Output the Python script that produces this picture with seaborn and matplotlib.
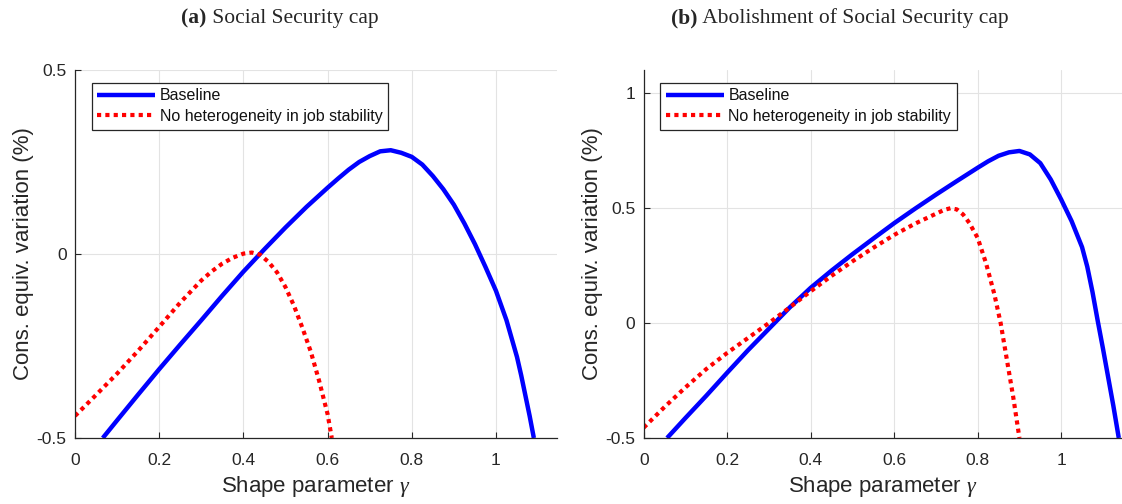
import matplotlib
matplotlib.use("Agg")
import matplotlib.pyplot as plt
import seaborn as sns
import pandas as pd
from matplotlib.ticker import FixedLocator, FixedFormatter

# ---------------- data ----------------
# Panel (a): Social Security cap
a_base_x = [0.066, 0.1, 0.15, 0.2, 0.25, 0.3, 0.35, 0.4, 0.45, 0.5, 0.55, 0.6, 0.625, 0.65, 0.675, 0.7,
            0.725, 0.75, 0.775, 0.8, 0.825, 0.85, 0.875, 0.9, 0.925, 0.95, 0.975, 1.0, 1.025, 1.05, 1.06,
            1.07, 1.08, 1.09]
a_base_y = [-0.5, -0.452, -0.382, -0.313, -0.246, -0.18, -0.113, -0.048, 0.013, 0.072, 0.128, 0.18, 0.205,
            0.229, 0.25, 0.266, 0.279, 0.282, 0.275, 0.264, 0.243, 0.212, 0.176, 0.134, 0.083, 0.027, -0.035,
            -0.1, -0.18, -0.28, -0.33, -0.385, -0.44, -0.5]
a_nohet_x = [0.0, 0.05, 0.1, 0.15, 0.2, 0.25, 0.3, 0.325, 0.35, 0.375, 0.4, 0.42, 0.44, 0.46, 0.48, 0.5,
             0.52, 0.54, 0.56, 0.58, 0.6, 0.61]
a_nohet_y = [-0.44, -0.383, -0.325, -0.263, -0.198, -0.132, -0.072, -0.047, -0.026, -0.01, 0.001, 0.004,
             -0.002, -0.022, -0.05, -0.09, -0.14, -0.2, -0.265, -0.345, -0.435, -0.5]

# Panel (b): Abolishment of Social Security cap
b_base_x = [0.056, 0.1, 0.15, 0.2, 0.25, 0.3, 0.35, 0.4, 0.45, 0.5, 0.55, 0.6, 0.65, 0.7, 0.75, 0.8, 0.825,
            0.85, 0.875, 0.9, 0.925, 0.95, 0.975, 1.0, 1.025, 1.05, 1.0625, 1.075, 1.0875, 1.1, 1.125, 1.138]
b_base_y = [-0.5, -0.413, -0.316, -0.216, -0.118, -0.025, 0.068, 0.153, 0.228, 0.299, 0.367, 0.434, 0.497,
            0.558, 0.617, 0.675, 0.703, 0.727, 0.742, 0.748, 0.733, 0.695, 0.624, 0.537, 0.443, 0.33, 0.245,
            0.135, 0.01, -0.11, -0.36, -0.5]
b_nohet_x = [0.0, 0.05, 0.1, 0.15, 0.2, 0.25, 0.3, 0.35, 0.4, 0.45, 0.5, 0.55, 0.6, 0.65, 0.7, 0.72,
             0.735, 0.75, 0.765, 0.78, 0.8, 0.82, 0.84, 0.855, 0.87, 0.885, 0.9]
b_nohet_y = [-0.455, -0.365, -0.28, -0.2, -0.13, -0.065, 0.0, 0.068, 0.138, 0.205, 0.268, 0.327, 0.383,
             0.432, 0.475, 0.492, 0.499, 0.494, 0.472, 0.435, 0.37, 0.26, 0.125, 0.0, -0.16, -0.32, -0.5]

series_labels = ["Baseline", "No heterogeneity in job stability"]
titles = [("(a)", "Social Security cap"), ("(b)", "Abolishment of Social Security cap")]
x_ticks = [0, 0.2, 0.4, 0.6, 0.8, 1]
x_ticklabels = ["0", "0.2", "0.4", "0.6", "0.8", "1"]
a_yticks = [-0.5, 0, 0.5]
a_yticklabels = ["-0.5", "0", "0.5"]
b_yticks = [-0.5, 0, 0.5, 1]
b_yticklabels = ["-0.5", "0", "0.5", "1"]
xlabel = r"Shape parameter $\gamma$"
ylabel = "Cons. equiv. variation (%)"

# ---------------- style ----------------
sns.set_theme(style="whitegrid")
plt.rcParams["font.family"] = ["Liberation Sans", "DejaVu Sans"]
plt.rcParams["mathtext.fontset"] = "custom"
plt.rcParams["mathtext.it"] = "Liberation Serif:italic"
plt.rcParams["mathtext.rm"] = "Liberation Sans"
plt.rcParams["axes.unicode_minus"] = False

fig = plt.figure(figsize=(11.22, 5.04), dpi=100)
W, H = 1122, 504
ax_a = fig.add_axes([75 / W, 1 - 438 / H, 482 / W, 368 / H])
ax_b = fig.add_axes([643.7 / W, 1 - 438 / H, 478 / W, 368 / H])

panels = [
    (ax_a, a_base_x, a_base_y, a_nohet_x, a_nohet_y, (-0.5, 0.5), a_yticks, a_yticklabels),
    (ax_b, b_base_x, b_base_y, b_nohet_x, b_nohet_y, (-0.5, 1.1), b_yticks, b_yticklabels),
]

for ax, bx, by, nx, ny, ylim, yt, ytl in panels:
    df_b = pd.DataFrame({"x": bx, "y": by})
    df_n = pd.DataFrame({"x": nx, "y": ny})
    sns.lineplot(data=df_b, x="x", y="y", ax=ax, color="#0000ff", linewidth=3.2,
                 label=series_labels[0], solid_capstyle="butt", solid_joinstyle="round")
    sns.lineplot(data=df_n, x="x", y="y", ax=ax, color="#ff0000", linewidth=3.0,
                 label=series_labels[1], dashes=False)
    ax.lines[-1].set_dashes((1, 1))
    ax.lines[-1].set_dash_capstyle("butt")
    ax.set_xlim(0, 1.145)
    ax.set_ylim(*ylim)
    ax.xaxis.set_major_locator(FixedLocator(x_ticks))
    ax.xaxis.set_major_formatter(FixedFormatter(x_ticklabels))
    ax.yaxis.set_major_locator(FixedLocator(yt))
    ax.yaxis.set_major_formatter(FixedFormatter(ytl))
    ax.set_facecolor("white")
    ax.grid(True, color="#e3e3e3", linewidth=0.8)
    for s in ["top", "right"]:
        ax.spines[s].set_visible(False)
    for s in ["left", "bottom"]:
        ax.spines[s].set_visible(True)
        ax.spines[s].set_color("#262626")
        ax.spines[s].set_linewidth(0.9)
    ax.tick_params(axis="both", which="major", direction="in", length=4, width=0.8,
                   color="#262626", labelsize=12.5, labelcolor="#262626",
                   bottom=True, left=True)
    ax.tick_params(axis="x", pad=11)
    ax.tick_params(axis="y", pad=6)
    ax.set_xlabel(xlabel, fontsize=16, color="#262626", labelpad=4)
    ax.set_ylabel(ylabel, fontsize=16, color="#262626", labelpad=2)
    leg = ax.legend(loc="upper left", bbox_to_anchor=(0.035, 0.965), fontsize=11.5,
                    frameon=True, fancybox=False, edgecolor="#262626", framealpha=1,
                    handlelength=3.6, handletextpad=0.3, borderpad=0.35, labelspacing=0.35,
                    borderaxespad=0)
    leg.get_frame().set_linewidth(0.9)
    for t in leg.get_texts():
        t.set_color("#111111")


def centered_title(cx, bold, rest):
    r = fig.canvas.get_renderer()
    t1 = fig.text(0, 0, bold, fontsize=15.5, fontweight="bold", family="Liberation Serif", va="center")
    t2 = fig.text(0, 0, " " + rest, fontsize=15.5, family="Liberation Serif", va="center")
    w1 = t1.get_window_extent(r).width
    w2 = t2.get_window_extent(r).width
    x0 = cx - (w1 + w2) / 2
    y = 1 - 18 / H
    t1.set_position((x0 / W, y))
    t2.set_position(((x0 + w1) / W, y))


centered_title(280, *titles[0])
centered_title(840, *titles[1])

fig.savefig("out.png", dpi=100, facecolor="white")
